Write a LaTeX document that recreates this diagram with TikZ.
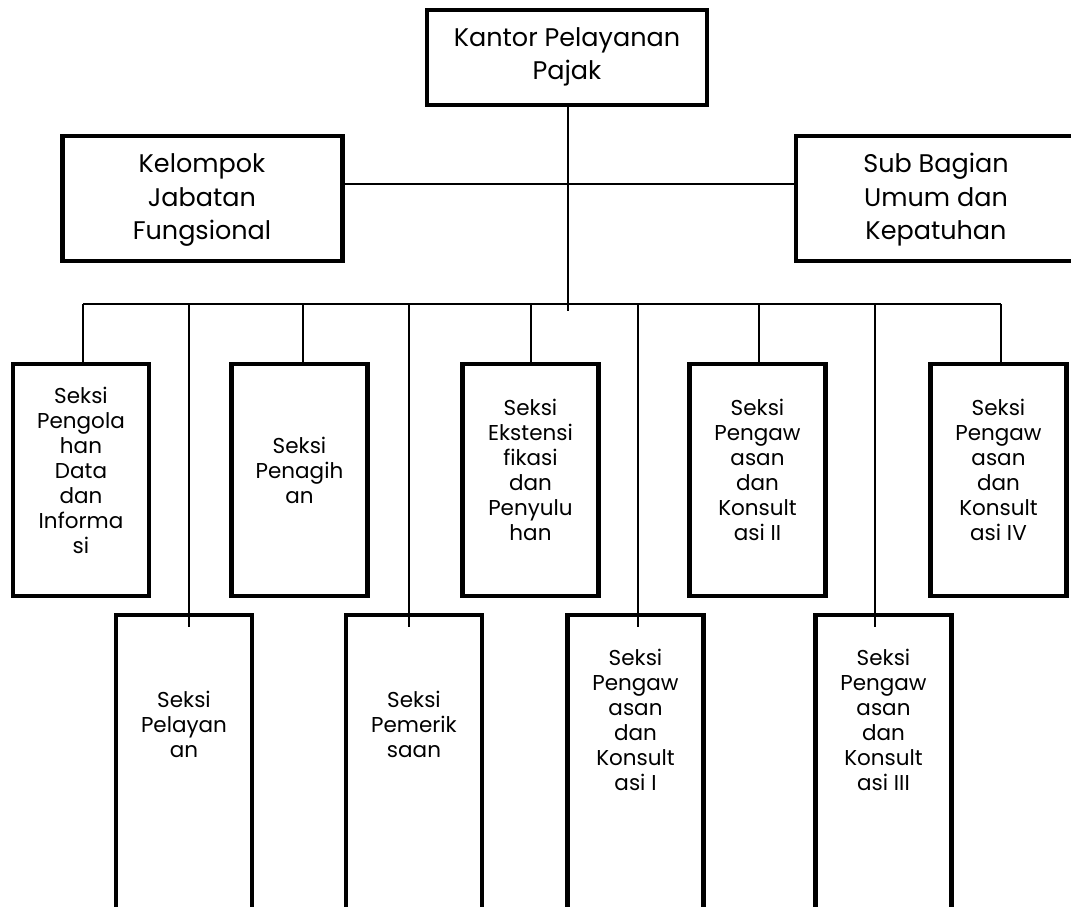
\documentclass[tikz,border=0pt]{standalone}
\usepackage{fontspec}
\setmainfont{Poppins}
\begin{document}
\begin{tikzpicture}[x=1pt,y=-1pt,
  bigbox/.style={draw, line width=4.5pt, minimum width=280pt, inner sep=0pt, outer sep=0pt},
  secbox/.style={draw, line width=4.3pt, minimum width=136pt, inner sep=0pt, outer sep=0pt},
  bigtxt/.style={align=center, font=\fontsize{25.5}{33.5}\selectfont, inner sep=0pt},
  sectxt/.style={align=center, font=\fontsize{21.5}{25}\selectfont, inner sep=0pt},
  conn/.style={line width=1.8pt}]
\useasboundingbox (0,0) rectangle (1071,906);
\clip (0,0) rectangle (1071,906);
% top level
\node[bigbox, minimum height=95pt] (kpp) at (567,57.5) {};
\node[bigtxt] (kppt) at (567,57) {Kantor Pelayanan\\Pajak};
\node[bigbox, minimum height=125pt] (kel) at (202.5,198.5) {};
\node[bigtxt] (kelt) at (202,200) {Kelompok\\Jabatan\\Fungsional};
\node[bigbox, minimum height=125pt] (sub) at (936,198.5) {};
\node[bigtxt] (subt) at (936,200) {Sub Bagian\\Umum dan\\Kepatuhan};
% section boxes, top row
\node[secbox, minimum height=232pt] (s1) at (81,480) {};
\node[sectxt] (s1t) at (81,470) {Seksi\\Pengola\\han\\Data\\dan\\Informa\\si};
\node[secbox, minimum height=232pt] (s3) at (299.5,480) {};
\node[sectxt] (s3t) at (299.5,470) {Seksi\\Penagih\\an};
\node[secbox, minimum height=232pt] (s5) at (530.5,480) {};
\node[sectxt] (s5t) at (530.5,470) {Seksi\\Ekstensi\\fikasi\\dan\\Penyulu\\han};
\node[secbox, minimum height=232pt] (s7) at (757.5,480) {};
\node[sectxt] (s7t) at (757.5,470) {Seksi\\Pengaw\\asan\\dan\\Konsult\\asi II};
\node[secbox, minimum height=232pt] (s9) at (998.5,480) {};
\node[sectxt] (s9t) at (998.5,470) {Seksi\\Pengaw\\asan\\dan\\Konsult\\asi IV};
% section boxes, bottom row
\node[secbox, minimum height=345pt] (s2) at (184,787.5) {};
\node[sectxt] (s2t) at (184,724) {Seksi\\Pelayan\\an};
\node[secbox, minimum height=345pt] (s4) at (414,787.5) {};
\node[sectxt] (s4t) at (414,724) {Seksi\\Pemerik\\saan};
\node[secbox, minimum height=345pt] (s6) at (635.5,787.5) {};
\node[sectxt] (s6t) at (635.5,720) {Seksi\\Pengaw\\asan\\dan\\Konsult\\asi I};
\node[secbox, minimum height=345pt] (s8) at (883.5,787.5) {};
\node[sectxt] (s8t) at (883.5,720) {Seksi\\Pengaw\\asan\\dan\\Konsult\\asi III};
% bus coordinates
\coordinate (c1) at (83,304);
\coordinate (c2) at (189,304);
\coordinate (c3) at (303,304);
\coordinate (c4) at (409,304);
\coordinate (c5) at (531,304);
\coordinate (c6) at (638,304);
\coordinate (c7) at (759,304);
\coordinate (c8) at (875,304);
\coordinate (c9) at (1001,304);
\coordinate (mid) at (568,184);
\coordinate (cend) at (568,311);
% connectors
\draw[conn] (kpp.south -| cend) -- (cend);
\draw[conn] (kel.east |- mid) -- (sub.west |- mid);
\draw[conn] (c1) -- (c9);
\draw[conn] (c1) -- (c1 |- s1.north);
\draw[conn] (c2) -- ([yshift=-12pt]c2 |- s2.north);
\draw[conn] (c3) -- (c3 |- s3.north);
\draw[conn] (c4) -- ([yshift=-12pt]c4 |- s4.north);
\draw[conn] (c5) -- (c5 |- s5.north);
\draw[conn] (c6) -- ([yshift=-12pt]c6 |- s6.north);
\draw[conn] (c7) -- (c7 |- s7.north);
\draw[conn] (c8) -- ([yshift=-12pt]c8 |- s8.north);
\draw[conn] (c9) -- (c9 |- s9.north);
\end{tikzpicture}
\end{document}
